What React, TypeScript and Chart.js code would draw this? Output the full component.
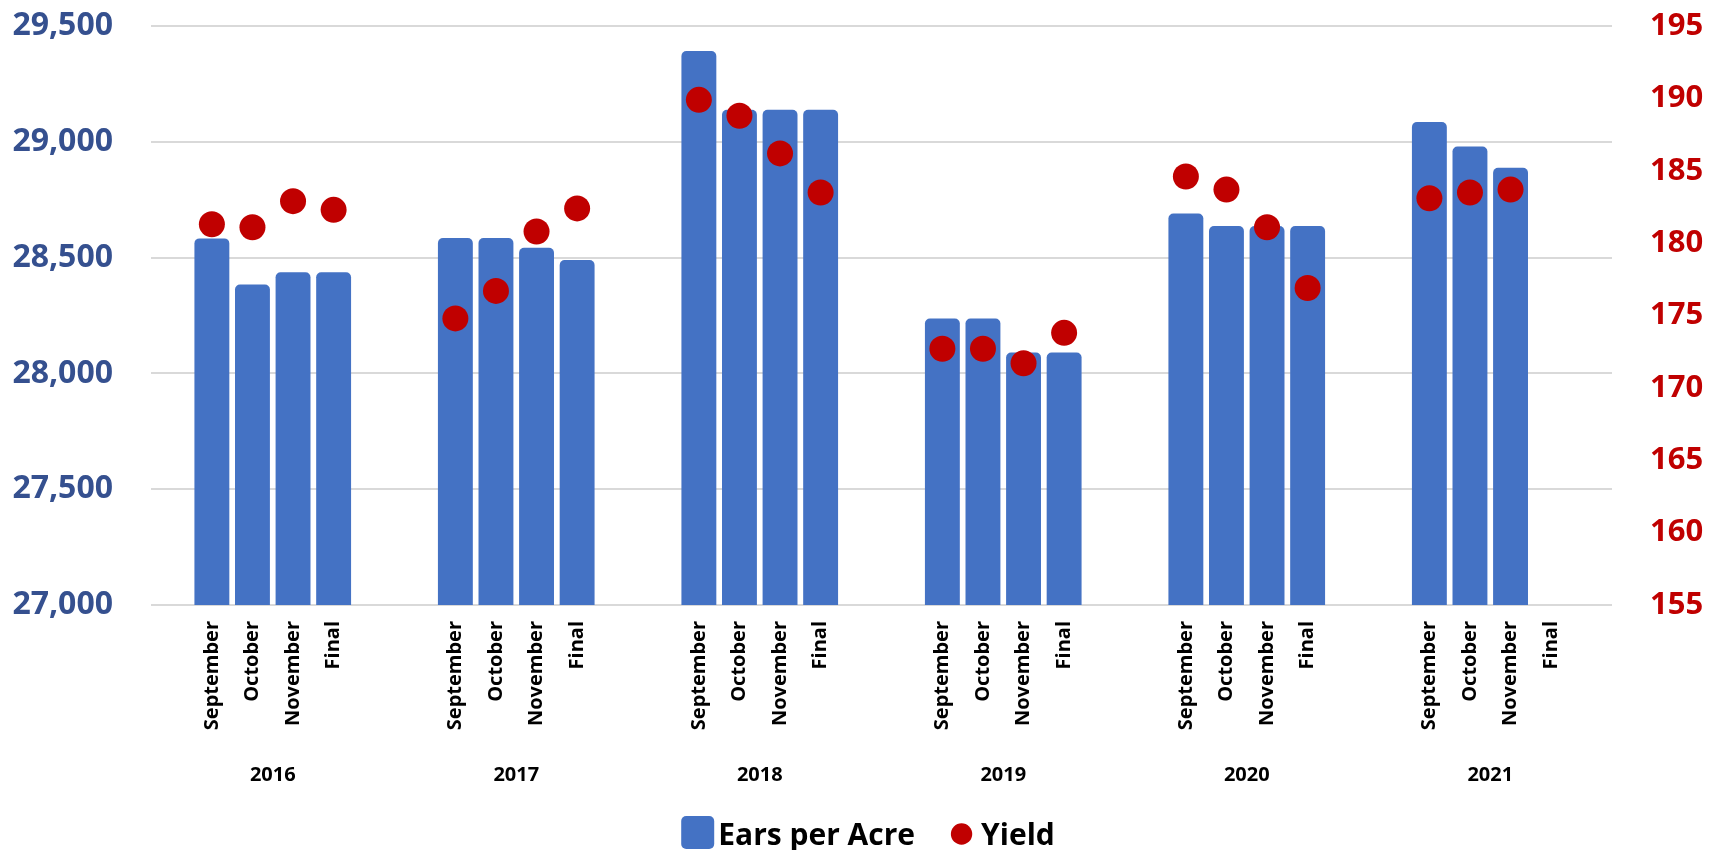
import React, { useEffect, useRef } from 'react';
import { Chart, registerables } from 'chart.js';

Chart.register(...registerables);

// ---- data ----
const years = ['2016', '2017', '2018', '2019', '2020', '2021'];
const stages = ['September', 'October', 'November', 'Final'];

const ears2016 = [28583, 28384, 28437, 28437];
const ears2017 = [28585, 28585, 28542, 28490];
const ears2018 = [29392, 29138, 29138, 29138];
const ears2019 = [28237, 28237, 28090, 28090];
const ears2020 = [28690, 28636, 28636, 28636];
const ears2021 = [29085, 28980, 28888, null];

const yield2016 = [181.3, 181.1, 182.9, 182.3];
const yield2017 = [174.8, 176.7, 180.8, 182.4];
const yield2018 = [189.9, 188.8, 186.2, 183.5];
const yield2019 = [172.7, 172.7, 171.7, 173.8];
const yield2020 = [184.6, 183.7, 181.1, 176.9];
const yield2021 = [183.1, 183.5, 183.7, null];

const leftTicks = { min: 27000, max: 29500, step: 500 };
const rightTicks = { min: 155, max: 195, step: 5 };

const earsByYear = [ears2016, ears2017, ears2018, ears2019, ears2020, ears2021];
const yieldByYear = [yield2016, yield2017, yield2018, yield2019, yield2020, yield2021];

// Build category table: each year group = blank, 4 stages, blank
const categoryLabels: string[] = [];
const earsData: (number | null)[] = [];
const yieldData: (number | null)[] = [];
years.forEach((_, i) => {
  categoryLabels.push('');
  earsData.push(null);
  yieldData.push(null);
  stages.forEach((s, j) => {
    categoryLabels.push(s);
    earsData.push(earsByYear[i][j]);
    yieldData.push(yieldByYear[i][j]);
  });
  categoryLabels.push('');
  earsData.push(null);
  yieldData.push(null);
});

const BAR_COLOR = '#4472C4';
const DOT_COLOR = '#C00000';
const LEFT_COLOR = '#35508F';
const GRID_COLOR = '#D9D9D9';
const FONT = "'Open Sans', 'DejaVu Sans', sans-serif";

const W = 1721;
const H = 850;

const zeroPad = (scale: any) => {
  scale.paddingTop = 0;
  scale.paddingBottom = 0;
  scale.paddingLeft = 0;
  scale.paddingRight = 0;
};

const legendPlugin = {
  id: 'customLegend',
  afterDraw(chart: any) {
    const ctx: CanvasRenderingContext2D = chart.ctx;
    ctx.save();
    ctx.font = `bold 30px ${FONT}`;
    const t1 = 'Ears per Acre';
    const t2 = 'Yield';
    const w1 = ctx.measureText(t1).width;
    const w2 = ctx.measureText(t2).width;
    const sq = 33;
    const total = sq + 4 + w1 + 36 + 21 + 9 + w2;
    let x = 868 - total / 2;
    const baseline = 845;
    ctx.fillStyle = BAR_COLOR;
    ctx.beginPath();
    (ctx as any).roundRect(x, 816, sq, sq, 5);
    ctx.fill();
    x += sq + 4;
    ctx.fillStyle = '#000000';
    ctx.textAlign = 'left';
    ctx.textBaseline = 'alphabetic';
    ctx.fillText(t1, x, baseline);
    x += w1 + 36;
    ctx.fillStyle = DOT_COLOR;
    ctx.beginPath();
    ctx.arc(x + 10.5, 834, 10.7, 0, Math.PI * 2);
    ctx.fill();
    x += 21 + 9;
    ctx.fillStyle = '#000000';
    ctx.fillText(t2, x, baseline);
    ctx.restore();
  },
};

export default function App() {
  const canvasRef = useRef<HTMLCanvasElement | null>(null);

  useEffect(() => {
    document.body.style.margin = '0';
    const canvas = canvasRef.current;
    if (!canvas) return;
    const chart = new Chart(canvas, {
      type: 'bar',
      data: {
        labels: categoryLabels,
        datasets: [
          {
            type: 'line',
            label: 'Yield',
            data: yieldData,
            yAxisID: 'y1',
            xAxisID: 'x',
            showLine: false,
            pointRadius: 13,
            pointHoverRadius: 13,
            pointStyle: 'circle',
            pointBackgroundColor: DOT_COLOR,
            pointBorderWidth: 0,
            borderColor: DOT_COLOR,
            backgroundColor: DOT_COLOR,
            order: 0,
          } as any,
          {
            type: 'bar',
            label: 'Ears per Acre',
            data: earsData,
            yAxisID: 'y',
            xAxisID: 'x',
            backgroundColor: BAR_COLOR,
            borderRadius: 5,
            borderSkipped: 'bottom',
            barPercentage: 0.86,
            categoryPercentage: 1.0,
            order: 1,
          } as any,
        ],
      },
      options: {
        responsive: false,
        animation: false,
        layout: { padding: { top: 26, left: 0, right: 0, bottom: 55 } },
        plugins: {
          legend: { display: false },
          tooltip: { enabled: false },
        },
        scales: {
          x: {
            type: 'category',
            position: 'bottom',
            weight: 0,
            offset: true,
            grid: { display: false, drawTicks: false },
            border: { display: false },
            ticks: {
              autoSkip: false,
              maxRotation: 90,
              minRotation: 90,
              padding: 16,
              color: '#000000',
              font: { family: FONT, size: 20, weight: 'bold' },
            },
            afterFit: (scale: any) => {
              scale.height = 130;
              zeroPad(scale);
            },
          },
          x2: {
            type: 'category',
            position: 'bottom',
            weight: 1,
            labels: years,
            offset: true,
            grid: { display: false, drawTicks: false },
            border: { display: false },
            ticks: {
              autoSkip: false,
              maxRotation: 0,
              minRotation: 0,
              padding: 28,
              color: '#000000',
              font: { family: FONT, size: 20, weight: 'bold' },
            },
            afterFit: (scale: any) => {
              scale.height = 60;
              zeroPad(scale);
            },
          },
          y: {
            type: 'linear',
            position: 'left',
            min: leftTicks.min,
            max: leftTicks.max,
            grid: { display: true, color: GRID_COLOR, lineWidth: 2, drawTicks: false },
            border: { display: false },
            ticks: {
              stepSize: leftTicks.step,
              padding: 38,
              color: LEFT_COLOR,
              font: { family: FONT, size: 32, weight: 'bold' },
              callback: (v: any) => Number(v).toLocaleString('en-US'),
            },
            afterFit: (scale: any) => {
              scale.width = 151;
              zeroPad(scale);
            },
          },
          y1: {
            type: 'linear',
            position: 'right',
            min: rightTicks.min,
            max: rightTicks.max,
            grid: { display: false, drawTicks: false },
            border: { display: false },
            ticks: {
              stepSize: rightTicks.step,
              padding: 38,
              color: DOT_COLOR,
              font: { family: FONT, size: 31, weight: 'bold' },
            },
            afterFit: (scale: any) => {
              scale.width = 109;
              zeroPad(scale);
            },
          },
        },
      } as any,
      plugins: [legendPlugin],
    });
    return () => {
      chart.destroy();
    };
  }, []);

  return (
    <div style={{ position: 'absolute', left: 0, top: 0, width: W, height: H, background: '#ffffff' }}>
      <canvas ref={canvasRef} width={W} height={H} style={{ display: 'block', width: W, height: H }} />
    </div>
  );
}
